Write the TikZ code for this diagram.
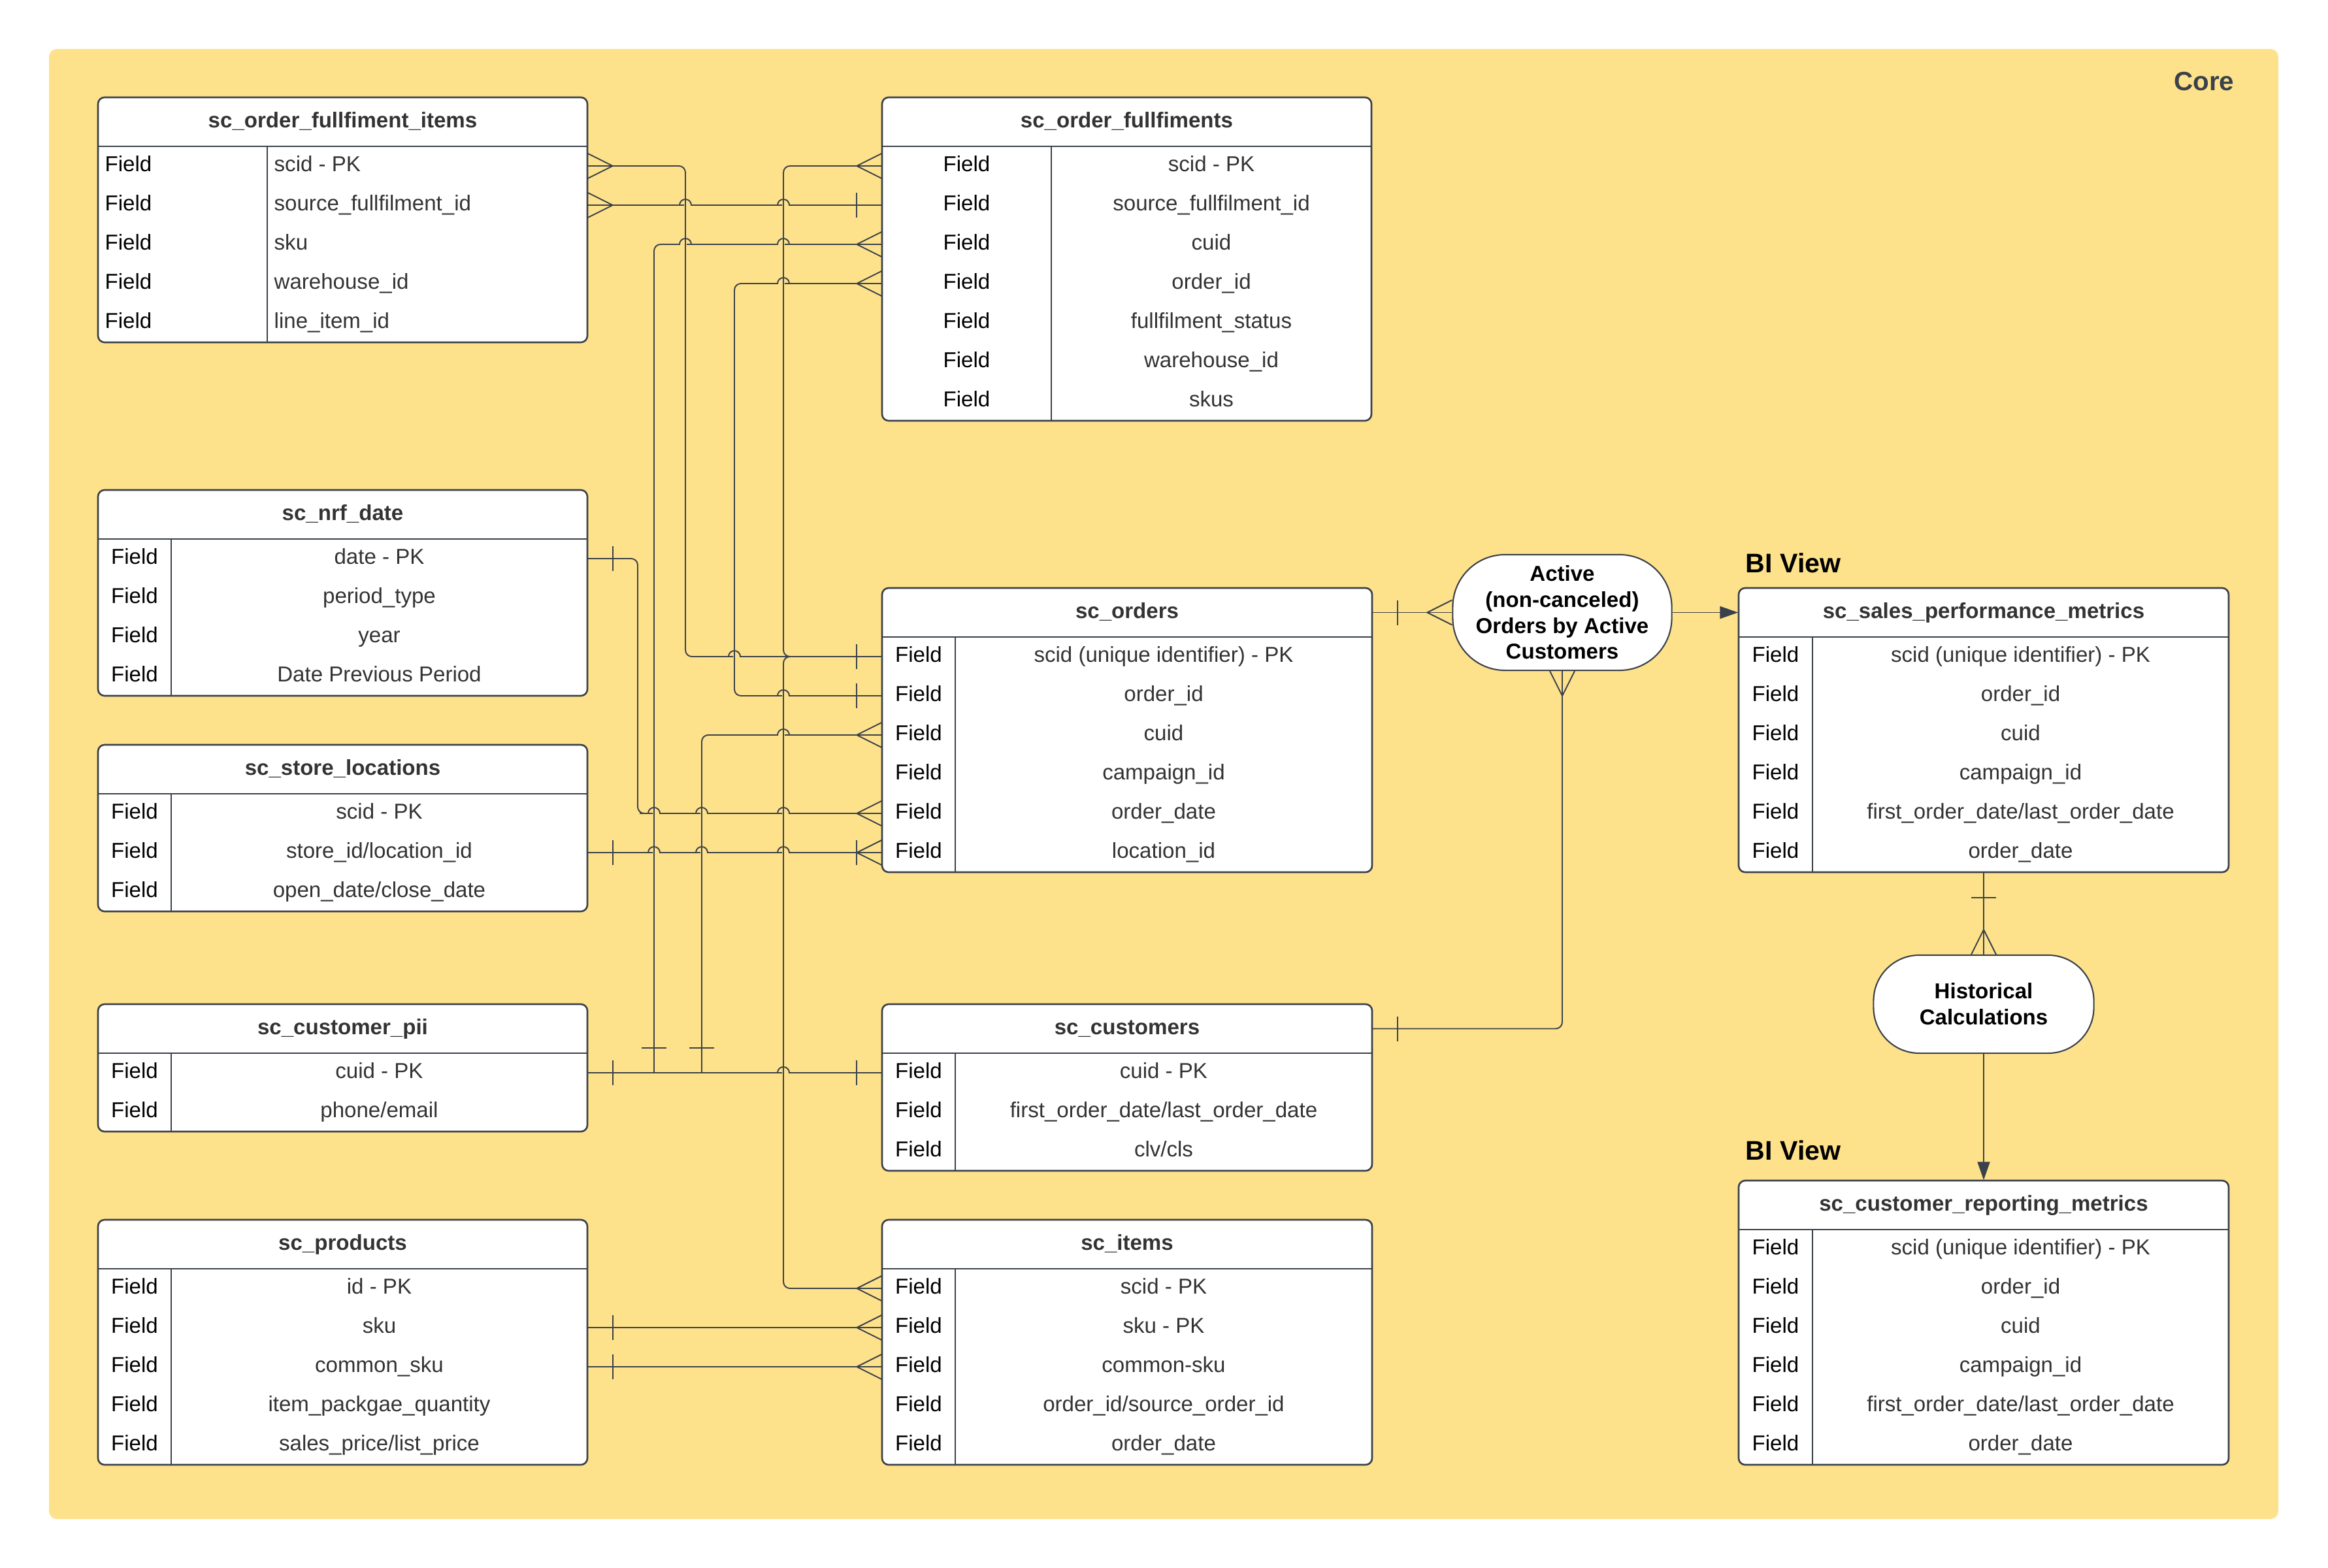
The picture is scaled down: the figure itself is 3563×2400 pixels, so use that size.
\documentclass[tikz,border=0pt]{standalone}
\usepackage{fontspec}
\setmainfont{Liberation Sans}
\usetikzlibrary{arrows.meta,calc}

\definecolor{coreyellow}{HTML}{FEE28B}
\definecolor{ink}{HTML}{3A414A}
\definecolor{txtgray}{HTML}{333333}

\tikzset{
  conn/.style={draw=ink, line width=0.55pt},
  route/.style={conn, rounded corners=0.1cm},
  tblframe/.style={draw=ink, line width=0.75pt, fill=white, rounded corners=0.1cm},
  tblline/.style={draw=ink, line width=0.6pt},
  tbltitle/.style={inner sep=0pt, minimum height=0.75cm, text height=7pt, text depth=2pt,
    font=\fontsize{9.4}{11}\selectfont\bfseries, text=txtgray},
  tblrow/.style={inner sep=0pt, minimum height=0.6cm},
  fieldtxt/.style={inner sep=0pt, text height=7pt, text depth=2pt,
    font=\fontsize{9.4}{11}\selectfont, text=black},
  valtxt/.style={fieldtxt, text=txtgray},
  calcbox/.style={draw=ink, line width=0.6pt, fill=white, align=center,
    font=\fontsize{9.4}{11.3}\selectfont\bfseries},
  viewlbl/.style={inner sep=0pt, font=\fontsize{11.7}{14}\selectfont\bfseries},
  crowfoot/.pic={\draw[conn] (0,-19) -- (38,0) -- (0,19);},
  onebar/.pic={\draw[conn] (38,-19) -- (38,19);},
}

% table: name, left, top, right, divider, rows, title, values, align (l/c)
\newcommand{\ertable}[9]{%
  \draw[tblframe] (#2,#3) rectangle (#4,{#3+75+60*#6});
  \draw[tblline] (#2,{#3+75}) -- (#4,{#3+75});
  \draw[tblline] (#5,{#3+75}) -- (#5,{#3+75+60*#6});
  \node[tbltitle, minimum width={(#4-#2)*0.01cm}] (#1) at ({(#2+#4)/2},{#3+37.5}) {#7};
  \foreach \v [count=\i] in {#8} {
    \node[tblrow, minimum width={(#4-#2)*0.01cm}] (#1-\i) at ({(#2+#4)/2},{#3+45+60*\i}) {};
    \if#9l
      \node[fieldtxt, anchor=west] (#1-f\i) at ({#2+10},{#3+45+60*\i}) {Field};
      \node[valtxt, anchor=west] (#1-v\i) at ({#5+10},{#3+45+60*\i}) {\v};
    \else
      \node[fieldtxt] (#1-f\i) at ({(#2+#5)/2},{#3+45+60*\i}) {Field};
      \node[valtxt] (#1-v\i) at ({(#5+#4)/2},{#3+45+60*\i}) {\v};
    \fi
  }
}
% line hops over a vertical line (rightwards / leftwards)
\newcommand{\hop}[2]{-- ({#1-12},#2) [sharp corners] -- ({#1-9},#2)
  arc[start angle=180,end angle=0,radius=0.09cm] -- ({#1+12},#2) [rounded corners=0.1cm]}
\newcommand{\lhop}[2]{-- ({#1+12},#2) [sharp corners] -- ({#1+9},#2)
  arc[start angle=0,end angle=180,radius=0.09cm] -- ({#1-12},#2) [rounded corners=0.1cm]}

\begin{document}
\begin{tikzpicture}[x=0.01cm, y=-0.01cm, >={Triangle[length=0.28cm,width=0.19cm]}]

\useasboundingbox (0,0) rectangle (3563,2400);
\fill[white] (0,0) rectangle (3563,2400);

% --- Core area ---
\fill[coreyellow, rounded corners=0.12cm] (75,75) rectangle (3487,2325);
\node[anchor=east, inner sep=0pt, text=ink, font=\fontsize{11.5}{14}\selectfont\bfseries]
  (core) at (3420,125) {Core};

% --- source tables ---
\ertable{ofi}{150}{149}{899}{409}{5}{sc\_order\_fullfiment\_items}
  {scid - PK, source\_fullfilment\_id, sku, warehouse\_id, line\_item\_id}{l}
\ertable{ofs}{1350}{149}{2099}{1609}{7}{sc\_order\_fullfiments}
  {scid - PK, source\_fullfilment\_id, cuid, order\_id, fullfilment\_status, warehouse\_id, skus}{c}
\ertable{nrf}{150}{750}{899}{262}{4}{sc\_nrf\_date}
  {date - PK, period\_type, year, Date Previous Period}{c}
\ertable{stl}{150}{1140}{899}{262}{3}{sc\_store\_locations}
  {scid - PK, store\_id/location\_id, open\_date/close\_date}{c}
\ertable{cpii}{150}{1537}{899}{262}{2}{sc\_customer\_pii}
  {cuid - PK, phone/email}{c}
\ertable{prd}{150}{1867}{899}{262}{5}{sc\_products}
  {id - PK, sku, common\_sku, item\_packgae\_quantity, sales\_price/list\_price}{c}
\ertable{ord}{1350}{900}{2100}{1462}{6}{sc\_orders}
  {scid (unique identifier) - PK, order\_id, cuid, campaign\_id, order\_date, location\_id}{c}
\ertable{cus}{1350}{1537}{2100}{1462}{3}{sc\_customers}
  {cuid - PK, first\_order\_date/last\_order\_date, clv/cls}{c}
\ertable{itm}{1350}{1867}{2100}{1462}{5}{sc\_items}
  {scid - PK, sku - PK, common-sku, order\_id/source\_order\_id, order\_date}{c}

% --- BI views ---
\node[viewlbl, anchor=west] (bi1) at (2671,862) {BI View};
\ertable{spm}{2661}{900}{3411}{2774}{6}{sc\_sales\_performance\_metrics}
  {scid (unique identifier) - PK, order\_id, cuid, campaign\_id, first\_order\_date/last\_order\_date, order\_date}{c}
\node[viewlbl, anchor=west] (bi2) at (2671,1761) {BI View};
\ertable{crm}{2661}{1807}{3411}{2774}{6}{sc\_customer\_reporting\_metrics}
  {scid (unique identifier) - PK, order\_id, cuid, campaign\_id, first\_order\_date/last\_order\_date, order\_date}{c}

\node[calcbox, rounded corners=0.8cm, minimum width=3.35cm, minimum height=1.77cm]
  (act) at (2391,937.5) {Active\\(non-canceled)\\Orders by Active\\Customers};
\node[calcbox, rounded corners=0.7cm, minimum width=3.37cm, minimum height=1.5cm]
  (hist) at (3036,1537) {Historical\\Calculations};

% --- relations ---
\coordinate (tapA) at (1001,1642);
\coordinate (tapB) at (1074,1642);

\draw[route] (ofi-1.east) -- (1049,254) -- (1049,1005) \hop{1124}{1005} -- (ord-1.west);
\draw[route] (ofi-2.east) \hop{1049}{314} \hop{1199}{314} -- (ofs-2.west);
\draw[route] (ofs-1.west) -- (1199,254) -- (1199,1005) -- (ord-1.west);
\draw[route] (ofs-3.west) \lhop{1199}{374} \lhop{1049}{374} -- (1001,374) -- (tapA);
\draw[route] (ofs-4.west) \lhop{1199}{434} -- (1124,434) -- (1124,1065) \hop{1199}{1065} -- (ord-2.west);
\draw[route] (ord-3.west) \lhop{1199}{1125} -- (1074,1125) -- (tapB);
\draw[route] (nrf-1.east) -- (976,855) -- (976,1245) \hop{1001}{1245} \hop{1074}{1245} \hop{1199}{1245} -- (ord-5.west);
\draw[route] (stl-2.east) \hop{1001}{1305} \hop{1074}{1305} \hop{1199}{1305} -- (ord-6.west);
\draw[route] (cpii-1.east) \hop{1199}{1642} -- (cus-1.west);
\draw[route] (ord-1.west) -- (1199,1005) -- (1199,1972) -- (itm-1.west);
\draw[route] (prd-2.east) -- (itm-2.west);
\draw[route] (prd-3.east) -- (itm-3.west);

\draw[route] (ord.east) -- (act.west);
\draw[route, ->, fill=ink] (act.east) -- (spm.west);
\draw[route] (act.south) |- (cus.east);
\draw[route] (spm-6.south) -- (hist.north);
\draw[route, ->, fill=ink] (hist.south) -- (crm.north);

% --- cardinality ends ---
\pic at (ofi-1.east) {crowfoot};
\pic at (ofi-2.east) {crowfoot};
\pic[rotate=180] at (ofs-1.west) {crowfoot};
\pic[rotate=180] at (ofs-2.west) {onebar};
\pic[rotate=180] at (ofs-3.west) {crowfoot};
\pic[rotate=180] at (ofs-4.west) {crowfoot};
\pic[rotate=180] at (ord-1.west) {onebar};
\pic[rotate=180] at (ord-2.west) {onebar};
\pic[rotate=180] at (ord-3.west) {crowfoot};
\pic[rotate=180] at (ord-5.west) {crowfoot};
\pic[rotate=180] at (ord-6.west) {crowfoot};
\pic[rotate=180] at (ord-6.west) {onebar};
\pic at (nrf-1.east) {onebar};
\pic at (stl-2.east) {onebar};
\pic at (cpii-1.east) {onebar};
\pic[rotate=90] at (tapA) {onebar};
\pic[rotate=90] at (tapB) {onebar};
\pic[rotate=180] at (cus-1.west) {onebar};
\pic at (prd-2.east) {onebar};
\pic at (prd-3.east) {onebar};
\pic[rotate=180] at (itm-1.west) {crowfoot};
\pic[rotate=180] at (itm-2.west) {crowfoot};
\pic[rotate=180] at (itm-3.west) {crowfoot};
\pic at (ord.east) {onebar};
\pic[rotate=180] at (act.west) {crowfoot};
\pic[rotate=-90] at (act.south) {crowfoot};
\pic at (cus.east) {onebar};
\pic[rotate=-90] at (spm-6.south) {onebar};
\pic[rotate=90] at (hist.north) {crowfoot};

\end{tikzpicture}
\end{document}
